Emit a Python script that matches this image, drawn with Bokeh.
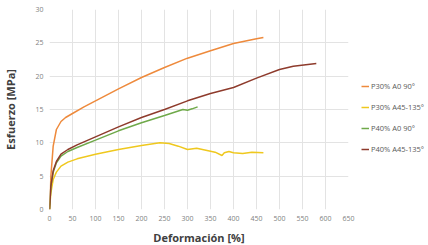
from bokeh.plotting import figure
from bokeh.models import Range1d, FixedTicker, Legend, LegendItem
from bokeh.embed import file_html
from bokeh.resources import INLINE

# P30% A0 90°
s1_x = [0, 3, 8, 15, 25, 35, 50, 75, 100, 150, 200, 250, 300, 350, 400, 450, 465]
s1_y = [0, 5, 9.5, 12, 13.2, 13.8, 14.4, 15.4, 16.3, 18.1, 19.8, 21.3, 22.7, 23.8, 24.9, 25.6, 25.8]
# P30% A45-135°
s2_x = [0, 3, 8, 15, 25, 40, 60, 100, 150, 200, 240, 260, 280, 300, 320, 340, 360, 375, 380, 390, 400, 420, 440, 465]
s2_y = [0, 2.5, 4.5, 5.6, 6.5, 7.1, 7.6, 8.3, 9.0, 9.6, 10.0, 9.9, 9.5, 9.0, 9.2, 8.9, 8.6, 8.1, 8.5, 8.7, 8.5, 8.4, 8.6, 8.5]
# P40% A0 90°
s3_x = [0, 3, 8, 15, 25, 40, 60, 100, 150, 200, 250, 290, 300, 310, 322]
s3_y = [0, 3.5, 5.6, 7.0, 8.0, 8.7, 9.3, 10.4, 11.8, 13.0, 14.1, 15.0, 14.9, 15.1, 15.4]
# P40% A45-135°
s4_x = [0, 3, 8, 15, 25, 40, 60, 100, 150, 200, 250, 300, 350, 400, 450, 500, 530, 580]
s4_y = [0, 3.5, 5.8, 7.2, 8.3, 9.0, 9.7, 10.9, 12.4, 13.8, 15.0, 16.3, 17.4, 18.3, 19.7, 21.0, 21.5, 21.9]

names = ["P30% A0 90°", "P30% A45-135°", "P40% A0 90°", "P40% A45-135°"]
colors = ["#EE8A3C", "#EFC81E", "#6FA94A", "#8E3B2C"]
x_ticks = list(range(0, 651, 50))
y_ticks = [0, 5, 10, 15, 20, 25, 30]

p = figure(frame_width=299, frame_height=200, output_backend="svg", toolbar_location=None,
           x_range=Range1d(0, 650), y_range=Range1d(0, 30),
           min_border_left=45, min_border_right=0, min_border_top=9, min_border_bottom=20)
p.outline_line_color = None
p.background_fill_color = "white"

renderers = []
for xs, ys, c in zip([s1_x, s2_x, s3_x, s4_x], [s1_y, s2_y, s3_y, s4_y], colors):
    renderers.append(p.line(xs, ys, line_color=c, line_width=1.5))

for ax in (p.xaxis[0], p.yaxis[0]):
    ax.axis_line_color = None
    ax.major_tick_line_color = None
    ax.minor_tick_line_color = None
    ax.major_tick_in = 0
    ax.major_tick_out = 0
    ax.major_label_text_font_size = "7px"
    ax.major_label_text_color = "#7f7f7f"
    ax.major_label_text_font = "Open Sans"
    ax.axis_label_text_font = "Open Sans"
    ax.axis_label_text_font_size = "11px"
    ax.axis_label_text_font_style = "bold"
    ax.axis_label_text_color = "#404040"

p.xaxis.major_label_standoff = 6
p.xaxis.axis_label_standoff = 6
p.yaxis.major_label_standoff = 6
p.yaxis.axis_label_standoff = 14

p.xaxis.ticker = FixedTicker(ticks=x_ticks)
p.yaxis.ticker = FixedTicker(ticks=y_ticks)
p.xaxis.axis_label = "Deformación [%]"
p.yaxis.axis_label = "Esfuerzo [MPa]"
p.xgrid.ticker = FixedTicker(ticks=x_ticks)
p.ygrid.ticker = FixedTicker(ticks=y_ticks)
p.xgrid.grid_line_color = "#e3e3e3"
p.ygrid.grid_line_color = "#e3e3e3"

legend = Legend(items=[LegendItem(label=n, renderers=[r]) for n, r in zip(names, renderers)],
                location=(13, 55), background_fill_alpha=0, border_line_alpha=0,
                padding=0, margin=10, spacing=11, glyph_width=8, glyph_height=10,
                label_height=10, label_standoff=2, label_text_font_size="7.5px",
                label_text_color="#595959", label_text_font="Open Sans")
p.add_layout(legend, "right")

open("out.html", "w").write(file_html(p, INLINE))
